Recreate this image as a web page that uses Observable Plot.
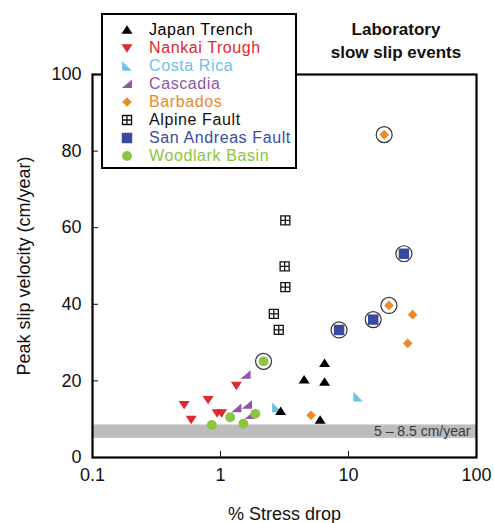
<!DOCTYPE html>
<html><head><meta charset="utf-8">
<script src="https://cdn.jsdelivr.net/npm/d3@7"></script>
<script src="https://cdn.jsdelivr.net/npm/@observablehq/plot@0.6"></script>
<style>
body{margin:0;background:#fff;font-family:"Liberation Sans",Arial,sans-serif}
#wrap{position:relative;width:494px;height:523px}
#title{position:absolute;left:316px;top:18px;width:160px;text-align:center;font-weight:bold;font-size:17px;line-height:23px;color:#111}
#legend{position:absolute;left:101px;top:13px;width:192px;height:152px;border:2.5px solid #000;background:#fff}
.row{position:absolute;left:0;height:18px;width:190px}
.row svg{position:absolute;left:17px;top:2px}
.row span{position:absolute;left:46px;top:0;font-size:16px;line-height:18px;letter-spacing:0.6px;white-space:nowrap}
</style></head><body><div id="wrap"></div>
<script>
// ---- data ----
const xTicks = [0.1, 1, 10, 100];
const yTicks = [0, 20, 40, 60, 80, 100];
const band = [5, 8.5];
const bandLabel = "5 – 8.5 cm/year";
const titleLines = ["Laboratory", "slow slip events"];
const xLabel = "% Stress drop";
const yLabel = "Peak slip velocity (cm/year)";

const seriesNames = ["Japan Trench","Nankai Trough","Costa Rica","Cascadia","Barbados","Alpine Fault","San Andreas Fault","Woodlark Basin"];
const seriesColors = ["#000000","#dc2a2e","#6cc0ec","#8f56a6","#e98a2f","#111111","#3a4b9f","#8cc540"];

const japanTrench = [[6.5,24.6],[4.5,20.3],[6.5,19.7],[6.0,9.8],[2.95,12.1]];
const nankaiTrough = [[0.52,13.8],[0.59,9.9],[0.8,15.1],[0.94,11.6],[1.02,11.6],[1.33,18.8]];
const costaRica = [[11.9,15.9],[2.76,13.1]];
const cascadia = [[1.57,21.6],[1.33,12.9],[1.61,13.8],[1.69,11.1]];
const barbados = [[19.0,84.3],[20.7,39.7],[31.7,37.3],[29.0,29.8],[5.1,11.0]];
const alpineFault = [[3.21,61.9],[3.17,49.9],[3.21,44.5],[2.61,37.5],[2.85,33.3]];
const sanAndreas = [[27.1,53.2],[15.6,36.0],[8.44,33.3]];
const woodlark = [[2.17,25.1],[0.855,8.5],[1.19,10.5],[1.51,8.8],[1.87,11.4]];

// indices of circled (highlighted) points
const barbadosCircled = [0, 1];
const sanAndreasCircled = [0, 1, 2];
const woodlarkCircled = [0];

// ---- symbols ----
const R = (s) => Math.sqrt(s / Math.PI);
const sym = {
  triUp: {draw(c, s){const r=R(s); c.moveTo(0,-0.85*r); c.lineTo(r,0.68*r); c.lineTo(-r,0.68*r); c.closePath();}},
  triDown: {draw(c, s){const r=R(s); c.moveTo(0,0.85*r); c.lineTo(r,-0.68*r); c.lineTo(-r,-0.68*r); c.closePath();}},
  triBL: {draw(c, s){const r=R(s)*0.88; c.moveTo(-r,-r); c.lineTo(-r,r); c.lineTo(r,r); c.closePath();}},
  triBR: {draw(c, s){const r=R(s)*0.92; c.moveTo(r,-r*0.9); c.lineTo(r,r*0.8); c.lineTo(-r,r*0.8); c.closePath();}},
  diamond: {draw(c, s){const r=R(s)*0.88; c.moveTo(0,-r); c.lineTo(r,0); c.lineTo(0,r); c.lineTo(-r,0); c.closePath();}},
  grid: {draw(c, s){const r=R(s)*0.82; c.moveTo(-r,-r); c.lineTo(r,-r); c.lineTo(r,r); c.lineTo(-r,r); c.closePath(); c.moveTo(0,-r); c.lineTo(0,r); c.moveTo(-r,0); c.lineTo(r,0);}},
  square: {draw(c, s){const r=R(s)*0.95; c.moveTo(-r,-r); c.lineTo(r,-r); c.lineTo(r,r); c.lineTo(-r,r); c.closePath();}},
  circle: {draw(c, s){const r=R(s)*0.9; c.moveTo(r,0); c.arc(0,0,r,0,2*Math.PI);}}
};
const seriesData = [japanTrench,nankaiTrough,costaRica,cascadia,barbados,alpineFault,sanAndreas,woodlark];
const seriesSym = [sym.triUp,sym.triDown,sym.triBL,sym.triBR,sym.diamond,sym.grid,sym.square,sym.circle];
const drawOrder = [1,2,3,0,4,5,6,7];

const circled = [
  ...barbadosCircled.map(i => barbados[i]),
  ...sanAndreasCircled.map(i => sanAndreas[i]),
  ...woodlarkCircled.map(i => woodlark[i])
];

const r0 = 5.5;
const dotMarks = drawOrder.map(k => {
  const isGrid = k === 5;
  return Plot.dot(seriesData[k], {
    x: d => d[0], y: d => d[1], r: r0, symbol: seriesSym[k],
    fill: isGrid ? "white" : seriesColors[k],
    stroke: isGrid ? seriesColors[k] : "none",
    strokeWidth: isGrid ? 1.3 : 0
  });
});

const chart = Plot.plot({
  width: 494, height: 523,
  marginLeft: 92, marginRight: 18, marginTop: 74, marginBottom: 66,
  style: {fontFamily: "'Liberation Sans', Arial, sans-serif", fontSize: "18px", color: "#111", background: "white"},
  x: {type: "log", domain: [xTicks[0], xTicks[xTicks.length-1]]},
  y: {domain: [yTicks[0], yTicks[yTicks.length-1]]},
  marks: [
    Plot.rect([band], {x1: () => xTicks[0], x2: () => xTicks[xTicks.length-1], y1: d => d[0], y2: d => d[1], fill: "#bcbdbf"}),
    Plot.text([band], {x: () => xTicks[xTicks.length-1], y: d => (d[0]+d[1])/2, text: () => bandLabel, textAnchor: "end", dx: -6, fontSize: 14, fill: "#3a3a3a"}),
    ...dotMarks,
    Plot.dot(circled, {x: d => d[0], y: d => d[1], r: 8, stroke: "#333", strokeWidth: 1.2, fill: "none"}),
    Plot.axisX({ticks: xTicks, tickFormat: d => String(d), tickSize: -6, tickPadding: 17, fontSize: 18,
      label: xLabel, labelAnchor: "center", labelOffset: 62, labelArrow: "none"}),
    Plot.axisY({ticks: yTicks, tickSize: -6, tickPadding: 17, fontSize: 18,
      label: yLabel, labelAnchor: "center", labelOffset: 75, labelArrow: "none"}),
    Plot.frame({stroke: "#000", strokeWidth: 2.2})
  ]
});

const wrap = document.getElementById("wrap");
wrap.appendChild(chart);

const title = document.createElement("div");
title.id = "title";
title.innerHTML = titleLines.join("<br>");
wrap.appendChild(title);

const legend = document.createElement("div");
legend.id = "legend";
seriesNames.forEach((name, i) => {
  const row = document.createElement("div");
  row.className = "row";
  row.style.top = (6 + 18.05 * i) + "px";
  const p = d3.path();
  seriesSym[i].draw(p, Math.PI * r0 * r0);
  const isGrid = i === 5;
  row.innerHTML = `<svg width="14" height="14" viewBox="-7 -7 14 14"><path d="${p.toString()}" fill="${isGrid ? "white" : seriesColors[i]}" stroke="${isGrid ? seriesColors[i] : "none"}" stroke-width="1.3"/></svg><span style="color:${seriesColors[i]}">${name}</span>`;
  legend.appendChild(row);
});
wrap.appendChild(legend);
</script>
</body></html>
